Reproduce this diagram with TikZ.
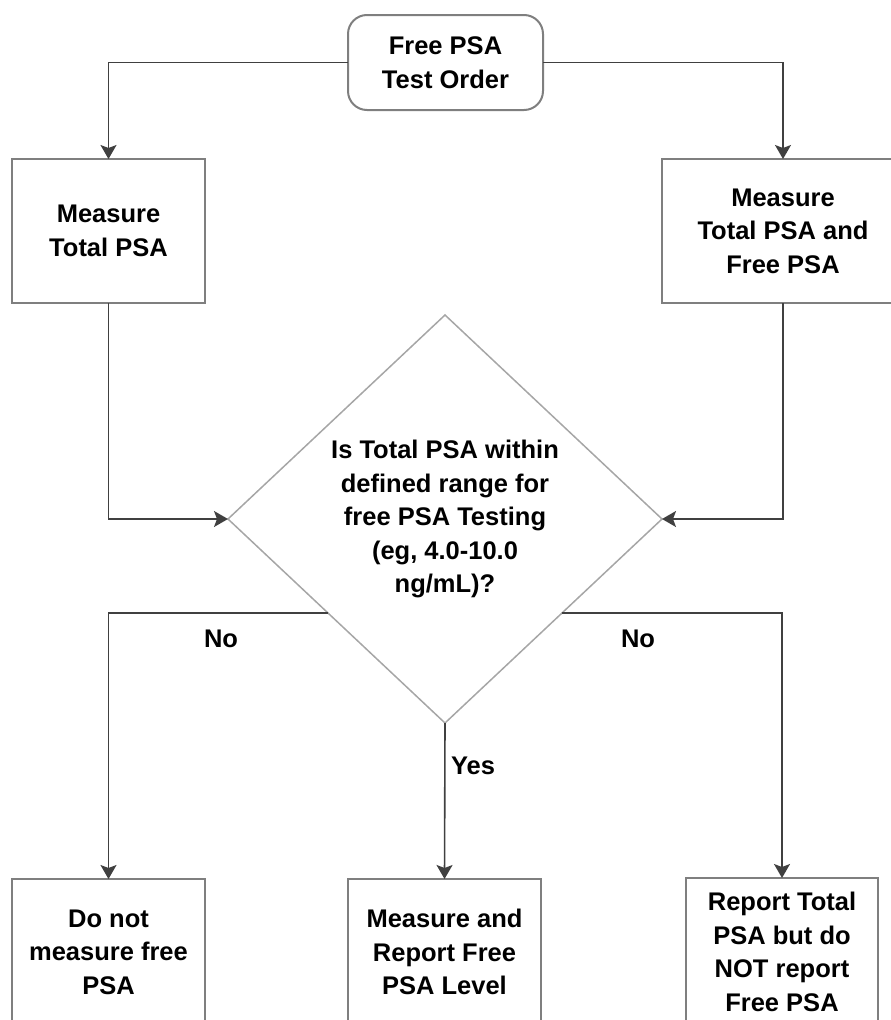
\documentclass[tikz,border=0pt]{standalone}
\usepackage{fontspec}
\setmainfont{Liberation Sans}
\usetikzlibrary{shapes.geometric,arrows.meta,calc}
\definecolor{boxgray}{HTML}{7F7F7F}
\definecolor{linegray}{HTML}{404040}
\definecolor{diagray}{HTML}{A6A6A6}
\begin{document}
\begin{tikzpicture}[x=1pt,y=-1pt,
  txt/.style={font=\fontsize{25.5}{33.5}\selectfont\bfseries, align=center, text=black, inner sep=0pt},
  boxnode/.style={txt, draw=boxgray, line width=2pt, minimum height=144pt, outer sep=0pt},
  startnode/.style={txt, draw=boxgray, line width=2pt, rounded corners=19pt, minimum width=195pt, minimum height=95pt, outer sep=0pt},
  decnode/.style={diamond, draw=diagray, line width=1.5pt, minimum width=434pt, minimum height=408pt, inner sep=0pt, outer sep=0pt},
  conn/.style={draw=linegray, line width=1.6pt},
  arr/.style={conn, -{Stealth[length=14pt,width=16pt,inset=3pt]}},
  lbl/.style={txt}
]
\useasboundingbox (0,0) rectangle (891,1020);
\clip (0,0) rectangle (891,1020);

% nodes
\node[startnode] (start) at (445.5,62.5) {Free PSA\\Test Order};
\node[boxnode, minimum width=193pt] (m1) at (108.5,231) {Measure\\Total PSA};
\node[boxnode, minimum width=242pt] (m2) at (783,231) {Measure\\Total PSA and\\Free PSA};
\node[decnode] (dec) at (445,519) {};
\node[txt] (dect) at (dec.center) {Is Total PSA within\\defined range for\\free PSA Testing\\(eg, 4.0-10.0\\ng/mL)?};
\node[boxnode, minimum width=193pt, minimum height=146pt] (b1) at (108.5,952) {Do not\\measure free\\PSA};
\node[boxnode, minimum width=193pt, minimum height=146pt] (b2) at (444.5,952) {Measure and\\Report Free\\PSA Level};
\node[boxnode, minimum width=192pt, minimum height=148pt] (b3) at (782,952) {Report Total\\PSA but do\\NOT report\\Free PSA};

% labels
\node[lbl] (no1) at (221,639) {No};
\node[lbl] (no2) at (638,639) {No};
\node[lbl] (yes) at (473,766) {Yes};

% connectors
\coordinate (dl) at ($(dec.west)!0.461!(dec.south)$);
\coordinate (dr) at ($(dec.east)!0.461!(dec.south)$);
\draw[arr] (start.west) -| (m1.north);
\draw[arr] (start.east) -| (m2.north);
\draw[arr] (m1.south) |- (dec.west);
\draw[arr] (m2.south) |- (dec.east);
\draw[arr] (dl) -| (b1.north);
\draw[arr] (dr) -| (b3.north);
\draw[arr] (dec.south) -- (b2.north);
\end{tikzpicture}
\end{document}
